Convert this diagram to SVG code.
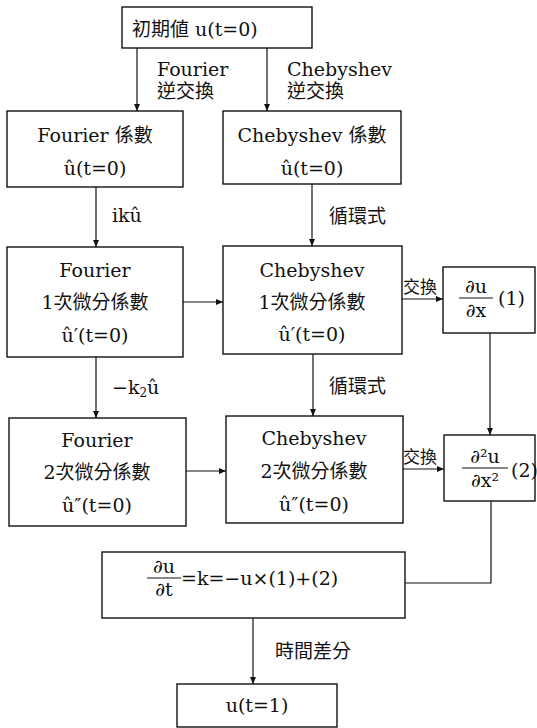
<svg xmlns="http://www.w3.org/2000/svg" width="537" height="728" viewBox="0 0 537 728">
<defs>
<marker id="ah" markerWidth="7" markerHeight="6" refX="7" refY="3" orient="auto" markerUnits="userSpaceOnUse">
<path d="M0,0 L7,3 L0,6 z" fill="#111"/>
</marker>
</defs>
<style>
.box{fill:#fff;stroke:#111;stroke-width:1.4}
.ln{fill:none;stroke:#111;stroke-width:1.2}
.ar{fill:none;stroke:#111;stroke-width:1.2;marker-end:url(#ah)}
text{font-family:"DejaVu Serif","Noto Sans CJK TC",serif;font-size:19px;fill:#111}
.c{text-anchor:middle}
.sm{font-size:17px}
</style>
<rect width="537" height="728" fill="#fff"/>

<g id="connectors">
<path class="ar" d="M137,48 V111"/>
<path class="ar" d="M267,48 V111"/>
<path class="ar" d="M96,187 V247"/>
<path class="ar" d="M312,184 V246"/>
<path class="ar" d="M183,302 H223"/>
<path class="ar" d="M402,299 H443"/>
<path class="ar" d="M490,333 V435"/>
<path class="ar" d="M96,357 V418"/>
<path class="ar" d="M313,354 V416"/>
<path class="ar" d="M186,471 H226"/>
<path class="ar" d="M403,469 H444"/>
<path class="ln" d="M491,501 V583 H405"/>
<path class="ar" d="M253,618 V684"/>
<text x="157" y="76">Fourier</text>
<text x="157" y="98">逆交換</text>
<text x="287" y="76">Chebyshev</text>
<text x="287" y="98">逆交換</text>
<text x="112" y="222">ikû</text>
<text x="329" y="223">循環式</text>
<text x="112" y="394">−k<tspan font-size="12" dy="3">2</tspan><tspan dy="-3">û</tspan></text>
<text x="329" y="393">循環式</text>
<text x="403" y="293" class="sm">交換</text>
<text x="403" y="463" class="sm">交換</text>
<text x="275" y="658">時間差分</text>
</g>

<g id="n-init">
<rect class="box" x="122" y="7" width="190" height="41"/>
<text x="132" y="36">初期値 u(t=0)</text>
</g>

<g id="n-fourier-coef">
<rect class="box" x="7" y="111" width="176" height="76"/>
<text class="c" x="95" y="142">Fourier 係數</text>
<text class="c" x="95" y="175">û(t=0)</text>
</g>

<g id="n-cheb-coef">
<rect class="box" x="223" y="111" width="178" height="73"/>
<text class="c" x="312" y="142">Chebyshev 係數</text>
<text class="c" x="312" y="175">û(t=0)</text>
</g>

<g id="n-fourier-d1">
<rect class="box" x="7" y="247" width="176" height="110"/>
<text class="c" x="95" y="277">Fourier</text>
<text class="c" x="95" y="309">1次微分係數</text>
<text class="c" x="95" y="342">û′(t=0)</text>
</g>

<g id="n-cheb-d1">
<rect class="box" x="223" y="246" width="179" height="108"/>
<text class="c" x="312" y="277">Chebyshev</text>
<text class="c" x="312" y="309">1次微分係數</text>
<text class="c" x="312" y="341">û′(t=0)</text>
</g>

<g id="n-dudx">
<rect class="box" x="443" y="267" width="92" height="66"/>
<text class="c" x="476" y="293">∂u</text>
<path class="ln" d="M459,298 H493"/>
<text class="c" x="476" y="317">∂x</text>
<text x="498" y="305">(1)</text>
</g>

<g id="n-fourier-d2">
<rect class="box" x="9" y="418" width="177" height="108"/>
<text class="c" x="97" y="447">Fourier</text>
<text class="c" x="97" y="479">2次微分係數</text>
<text class="c" x="97" y="512">û″(t=0)</text>
</g>

<g id="n-cheb-d2">
<rect class="box" x="226" y="416" width="177" height="107"/>
<text class="c" x="314" y="445">Chebyshev</text>
<text class="c" x="314" y="478">2次微分係數</text>
<text class="c" x="314" y="511">û″(t=0)</text>
</g>

<g id="n-d2udx2">
<rect class="box" x="444" y="435" width="91" height="66"/>
<text class="c" x="485" y="463">∂²u</text>
<path class="ln" d="M462,468 H508"/>
<text class="c" x="485" y="487">∂x²</text>
<text x="511" y="477">(2)</text>
</g>

<g id="n-formula">
<rect class="box" x="102" y="552" width="303" height="66"/>
<text class="c" x="164" y="573">∂u</text>
<path class="ln" d="M147,578 H181"/>
<text class="c" x="164" y="596">∂t</text>
<text x="181" y="585">=k=−u×(1)+(2)</text>
</g>

<g id="n-final">
<rect class="box" x="177" y="684" width="160" height="43"/>
<text class="c" x="257" y="712">u(t=1)</text>
</g>
</svg>
